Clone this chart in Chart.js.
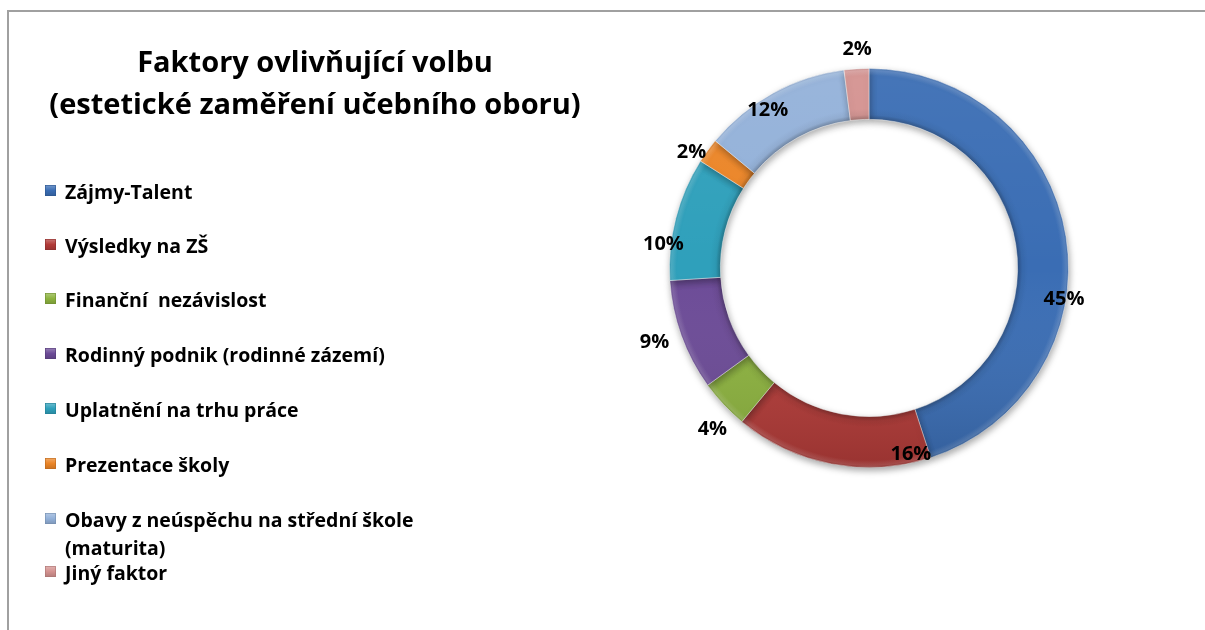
<!DOCTYPE html>
<html><head><meta charset="utf-8">
<script src="https://cdn.jsdelivr.net/npm/chart.js@4/dist/chart.umd.min.js"></script>
<style>
html,body{margin:0;padding:0;background:#fff;}
#wrap{position:relative;width:1205px;height:630px;overflow:hidden;}
#frame{position:absolute;left:7px;top:10px;width:1300px;height:700px;border-top:2px solid #a0a0a0;border-left:2px solid #a0a0a0;}
canvas{position:absolute;left:0;top:0;}
</style></head><body>
<div id="wrap"><div id="frame"></div><canvas id="c" width="1205" height="630"></canvas></div>
<script>
// ---- data ----
const chartTitle = ['Faktory ovlivňující volbu', '(estetické zaměření učebního oboru)'];
const categories = [
  'Zájmy-Talent',
  'Výsledky na ZŠ',
  'Finanční  nezávislost',
  'Rodinný podnik (rodinné zázemí)',
  'Uplatnění na trhu práce',
  'Prezentace školy',
  ['Obavy z neúspěchu na střední škole', '(maturita)'],
  'Jiný faktor'
];
const shares = [45, 16, 4, 9, 10, 2, 12, 2];
const seriesColors = ['#3a6db4', '#b23b38', '#8db33f', '#6c4b97', '#2fa0bb', '#eb8527', '#93b1d9', '#d49290'];

// ---- layout / style (not data) ----
const labelPlacement = [ // fraction along the arc, radius factor of outer radius
  {f: 0.612, r: 0.99}, {f: 0.092, r: 0.956}, {f: 0.32, r: 1.126}, {f: 0.52, r: 1.138},
  {f: 0.28, r: 1.037}, {f: 0.10, r: 1.062}, {f: 0.41, r: 0.94}, {f: 0.57, r: 1.10}
];
const legendBaselines = [199, 253, 307, 362, 417, 472, 527, 580];
const FONT = '"Open Sans", "Liberation Sans", sans-serif';

function shade(hex, amt) {
  const n = parseInt(hex.slice(1), 16);
  let r = n >> 16, g = (n >> 8) & 255, b = n & 255;
  const t = amt < 0 ? 0 : 255, p = Math.abs(amt);
  r = Math.round(r + (t - r) * p); g = Math.round(g + (t - g) * p); b = Math.round(b + (t - b) * p);
  return `rgb(${r},${g},${b})`;
}
const CUT = 0.745;
function ringFill(c) {
  const ch = c.chart, a = ch.chartArea, base = seriesColors[c.dataIndex];
  if (!a) return base;
  const cx = (a.left + a.right) / 2, cy = (a.top + a.bottom) / 2;
  const R = Math.min(a.width, a.height) / 2, r = R * CUT;
  const g = ch.ctx.createRadialGradient(cx, cy, r, cx, cy, R);
  g.addColorStop(0, shade(base, -0.25));
  g.addColorStop(0.08, shade(base, -0.05));
  g.addColorStop(0.2, base);
  g.addColorStop(0.85, base);
  g.addColorStop(0.95, shade(base, 0.15));
  g.addColorStop(1, shade(base, -0.1));
  return g;
}

const shadowPlugin = {
  id: 'ringShadow',
  beforeDatasetsDraw(chart) {
    const ctx = chart.ctx; ctx.save();
    ctx.shadowColor = 'rgba(0,0,0,0.35)'; ctx.shadowBlur = 7; ctx.shadowOffsetX = 1; ctx.shadowOffsetY = 3;
  },
  afterDatasetsDraw(chart) {
    const ctx = chart.ctx; ctx.restore();
    const a = chart.chartArea;
    ctx.save();
    ctx.globalCompositeOperation = 'source-atop';
    const g = ctx.createLinearGradient(0, a.top, 0, a.bottom);
    g.addColorStop(0, 'rgba(255,255,255,0.06)');
    g.addColorStop(0.5, 'rgba(255,255,255,0)');
    g.addColorStop(1, 'rgba(0,0,0,0.14)');
    ctx.fillStyle = g;
    ctx.fillRect(a.left - 10, a.top - 10, a.width + 20, a.height + 20);
    ctx.restore();
  }
};

const labelPlugin = {
  id: 'pctLabels',
  afterDraw(chart) {
    const ctx = chart.ctx, meta = chart.getDatasetMeta(0);
    const total = shares.reduce((s, v) => s + v, 0);
    ctx.save();
    ctx.font = 'bold 20px ' + FONT; ctx.fillStyle = '#000';
    ctx.textAlign = 'center'; ctx.textBaseline = 'middle';
    meta.data.forEach((arc, i) => {
      const p = arc.getProps(['x', 'y', 'startAngle', 'endAngle', 'outerRadius'], true);
      const ang = p.startAngle + (p.endAngle - p.startAngle) * labelPlacement[i].f;
      const rr = p.outerRadius * labelPlacement[i].r;
      ctx.fillText(Math.round(shares[i] / total * 100) + '%', p.x + Math.cos(ang) * rr, p.y + Math.sin(ang) * rr);
    });
    ctx.restore();
  }
};

const legendTitlePlugin = {
  id: 'sideLegend',
  afterDraw(chart) {
    const ctx = chart.ctx;
    ctx.save();
    // title
    ctx.fillStyle = '#000'; ctx.textAlign = 'center'; ctx.textBaseline = 'alphabetic';
    ctx.font = 'bold 29px ' + FONT;
    ctx.fillText(chartTitle[0], 315, 72);
    ctx.fillText(chartTitle[1], 315, 114);
    // legend
    ctx.textAlign = 'left';
    ctx.font = 'bold 19.5px ' + FONT;
    categories.forEach((cat, i) => {
      const y = legendBaselines[i];
      const base = seriesColors[i];
      const g = ctx.createLinearGradient(45, y - 14, 45, y - 3);
      g.addColorStop(0, shade(base, 0.3)); g.addColorStop(0.5, base); g.addColorStop(1, shade(base, -0.15));
      ctx.fillStyle = g;
      ctx.fillRect(45, y - 14, 11, 11);
      ctx.strokeStyle = shade(base, -0.2); ctx.lineWidth = 0.6;
      ctx.strokeRect(45.3, y - 13.7, 10.4, 10.4);
      ctx.fillStyle = '#000';
      const lines = Array.isArray(cat) ? cat : [cat];
      lines.forEach((ln, k) => ctx.fillText(ln, 65, y + k * 28));
    });
    ctx.restore();
  }
};

new Chart(document.getElementById('c').getContext('2d'), {
  type: 'doughnut',
  data: {
    labels: categories,
    datasets: [{
      data: shares,
      backgroundColor: ringFill,
      borderColor: 'rgba(255,255,255,0.45)',
      borderWidth: 1
    }]
  },
  options: {
    responsive: false,
    animation: false,
    cutout: (CUT * 100) + '%',
    rotation: 0,
    layout: { padding: { left: 669, right: 136, top: 68, bottom: 162 } },
    plugins: { legend: { display: false }, tooltip: { enabled: false }, title: { display: false } }
  },
  plugins: [shadowPlugin, labelPlugin, legendTitlePlugin]
});
</script>
</body></html>
